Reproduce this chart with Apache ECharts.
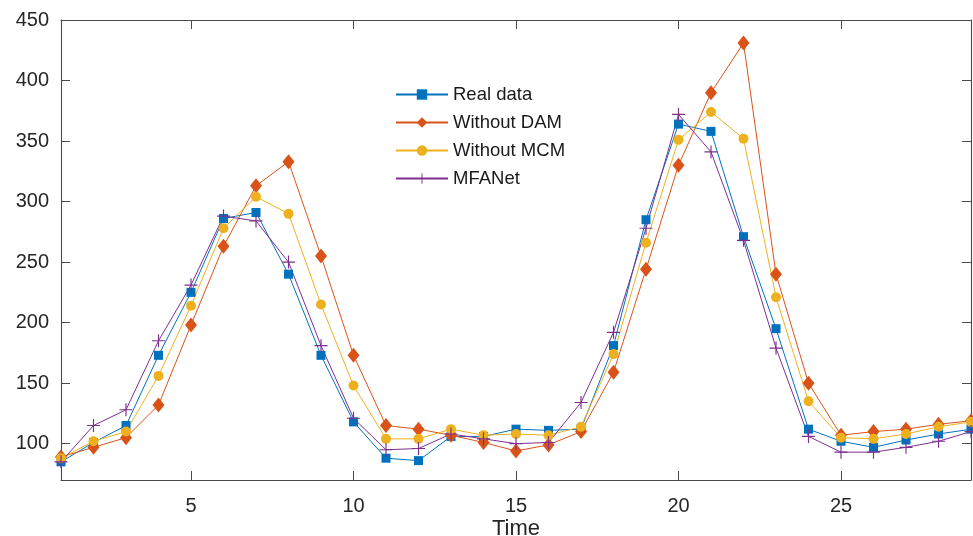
<!DOCTYPE html>
<html>
<head>
<meta charset="utf-8">
<script src="https://cdn.jsdelivr.net/npm/echarts@6/dist/echarts.min.js"></script>
<style>html,body{margin:0;padding:0;background:#fff}#c{width:973px;height:536px}</style>
</head>
<body>
<div id="c"></div>
<script>
const time = [1,2,3,4,5,6,7,8,9,10,11,12,13,14,15,16,17,18,19,20,21,22,23,24,25,26,27,28,29];
const realData = [85,101,115,173,225,286,291,240,173,118,88,86,106,106,112,111,112,181,285,364,358,271,195,112,102,97,103,108,112];
const withoutDAM = [89,97,105,132,198,263,313,333,255,173,115,112,107,101,94,99,110,159,244,330,390,431,240,150,107,110,112,116,119];
const withoutMCM = [88,102,110,156,214,278,304,290,215,148,104,104,112,107,108,107,114,174,266,351,374,352,221,135,105,104,108,114,118];
const mfaNet = [85,115,128,185,231,288,284,250,181,121,95,96,108,104,100,101,134,192,278,372,341,268,179,106,93,93,97,102,110];
const xTicks = [5,10,15,20,25];
const yTicks = [100,150,200,250,300,350,400,450];

const font = 'Liberation Sans, Arial, Helvetica, sans-serif';
const axisCol = '#4a4a4a';
const plusPath = 'path://M-0.09,-1L0.09,-1L0.09,-0.09L1,-0.09L1,0.09L0.09,0.09L0.09,1L-0.09,1L-0.09,0.09L-1,0.09L-1,-0.09L-0.09,-0.09Z';

function mk(name, vals, color, symbol, size) {
  return {
    name: name, type: 'line',
    data: time.map((t, i) => [t, vals[i]]),
    symbol: symbol, symbolSize: size, showAllSymbol: true,
    itemStyle: {color: color},
    lineStyle: {color: color, width: 1},
    emphasis: {disabled: true},
    animation: false
  };
}

const chart = echarts.init(document.getElementById('c'), null, {renderer: 'canvas'});
chart.setOption({
  animation: false,
  grid: {left: 61, top: 20, right: 2, bottom: 56, containLabel: false, outerBoundsMode: 'none'},
  legend: {
    left: 390, top: 80, orient: 'vertical',
    itemWidth: 52, itemHeight: 13, itemGap: 9,
    textStyle: {fontFamily: font, fontSize: 18.5, color: '#1a1a1a'},
    data: ['Real data','Without DAM','Without MCM','MFANet']
  },
  xAxis: [{
    type: 'value', min: 1, max: 29, position: 'bottom',
    name: 'Time', nameLocation: 'middle', nameGap: 38, nameMoveOverlap: false,
    nameTextStyle: {fontFamily: font, fontSize: 22, color: '#262626'},
    axisLine: {show: true, lineStyle: {color: axisCol, width: 1.1}},
    axisTick: {show: true, inside: true, length: 9, customValues: xTicks, lineStyle: {color: axisCol}},
    axisLabel: {customValues: xTicks, fontFamily: font, fontSize: 20, color: '#262626', margin: 16},
    splitLine: {show: false}
  }, {
    type: 'value', min: 1, max: 29, position: 'top',
    axisLine: {show: true, lineStyle: {color: axisCol, width: 1.1}},
    axisTick: {show: true, inside: true, length: 9, customValues: xTicks, lineStyle: {color: axisCol}},
    axisLabel: {show: false},
    splitLine: {show: false}
  }],
  yAxis: [{
    type: 'value', min: 70, max: 450, position: 'left',
    axisLine: {show: true, lineStyle: {color: axisCol, width: 1.1}},
    axisTick: {show: true, inside: true, length: 9, customValues: yTicks, lineStyle: {color: axisCol}},
    axisLabel: {customValues: yTicks, fontFamily: font, fontSize: 20, color: '#262626', margin: 12},
    splitLine: {show: false}
  }, {
    type: 'value', min: 70, max: 450, position: 'right',
    axisLine: {show: true, lineStyle: {color: axisCol, width: 1.1}},
    axisTick: {show: true, inside: true, length: 9, customValues: yTicks, lineStyle: {color: axisCol}},
    axisLabel: {show: false},
    splitLine: {show: false}
  }],
  series: [
    mk('Real data', realData, '#0072BD', 'rect', 9),
    mk('Without DAM', withoutDAM, '#D95319', 'diamond', [12, 15]),
    mk('Without MCM', withoutMCM, '#EDB120', 'circle', 10),
    mk('MFANet', mfaNet, '#7E2F8E', plusPath, 13)
  ]
});
</script>
</body>
</html>
